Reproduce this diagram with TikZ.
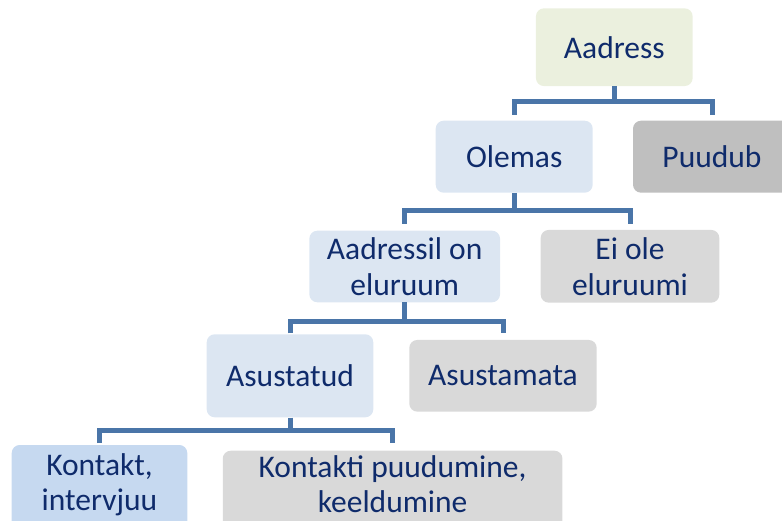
\documentclass[tikz,border=0pt]{standalone}
\usepackage{fontspec}
\setmainfont{Carlito}
\definecolor{txt}{HTML}{0F2B6B}
\definecolor{conncol}{HTML}{4A75A8}
\definecolor{fgreen}{HTML}{EBF0DE}
\definecolor{fblue}{HTML}{DCE6F2}
\definecolor{fblue2}{HTML}{C6D9F0}
\definecolor{fgray}{HTML}{D9D9D9}
\definecolor{fgrayd}{HTML}{BFBFBF}
\begin{document}
\begin{tikzpicture}[x=1pt,y=-1pt,
  box/.style={rectangle, rounded corners=8pt, inner sep=0pt, align=center,
    text=txt, font=\fontsize{31.5}{36}\selectfont},
  boxtext/.style={inner sep=0pt, align=center, text=txt, font=\fontsize{31.5}{35}\selectfont},
  conn/.style={draw=conncol, line width=5pt, line join=miter, line cap=butt}]
\useasboundingbox (0,0) rectangle (782,521);
\clip (0,0) rectangle (782,521);
% nodes
\node[box, fill=fgreen, minimum width=156.7pt, minimum height=77.7pt] (aadress) at (614.3,47.2) {Aadress};
\node[box, fill=fblue, minimum width=157pt, minimum height=72pt] (olemas) at (514.2,156.7) {Olemas};
\node[box, fill=fgrayd, minimum width=158pt, minimum height=72pt] (puudub) at (712,156.7) {Puudub};
\node[box, fill=fblue, minimum width=190.7pt, minimum height=71.6pt] (aadressil) at (404.7,266.5) {Aadressil on\\eluruum};
\node[box, fill=fgray, minimum width=178.6pt, minimum height=72.7pt] (eiole) at (630,266.3) {Ei ole\\eluruumi};
\node[box, fill=fblue, minimum width=166.6pt, minimum height=83pt] (asustatud) at (290,375.8) {Asustatud};
\node[box, fill=fgray, minimum width=187.4pt, minimum height=71.7pt] (asustamata) at (503,375.8) {Asustamata};
\node[box, fill=fblue2, minimum width=175.6pt, minimum height=92pt] (kontakt) at (99.5,491) {};
\node[boxtext] (kontakttxt) at (99.5,484.5) {Kontakt,\\intervjuu};
\node[box, fill=fgray, minimum width=339.7pt, minimum height=80.6pt] (kontakti) at (392.6,491) {};
\node[boxtext] (kontaktitxt) at (392.6,484.5) {Kontakti puudumine,\\keeldumine};
% connectors
\draw[conn] (aadress.south) -- (aadress.south |- 0,101.5);
\draw[conn] (olemas.center |- 0,115) -- (olemas.center |- 0,101.5) -- (puudub.center |- 0,101.5) -- (puudub.center |- 0,115);
\draw[conn] (olemas.south) -- (olemas.south |- 0,210.8);
\draw[conn] (aadressil.center |- 0,224) -- (aadressil.center |- 0,210.8) -- (eiole.center |- 0,210.8) -- (eiole.center |- 0,224);
\draw[conn] (aadressil.south) -- (aadressil.south |- 0,321.7);
\draw[conn] (asustatud.center |- 0,333.5) -- (asustatud.center |- 0,321.7) -- (asustamata.center |- 0,321.7) -- (asustamata.center |- 0,333.5);
\draw[conn] (asustatud.south) -- (asustatud.south |- 0,430.5);
\draw[conn] (kontakt.center |- 0,443) -- (kontakt.center |- 0,430.5) -- (kontakti.center |- 0,430.5) -- (kontakti.center |- 0,443);
\end{tikzpicture}
\end{document}
